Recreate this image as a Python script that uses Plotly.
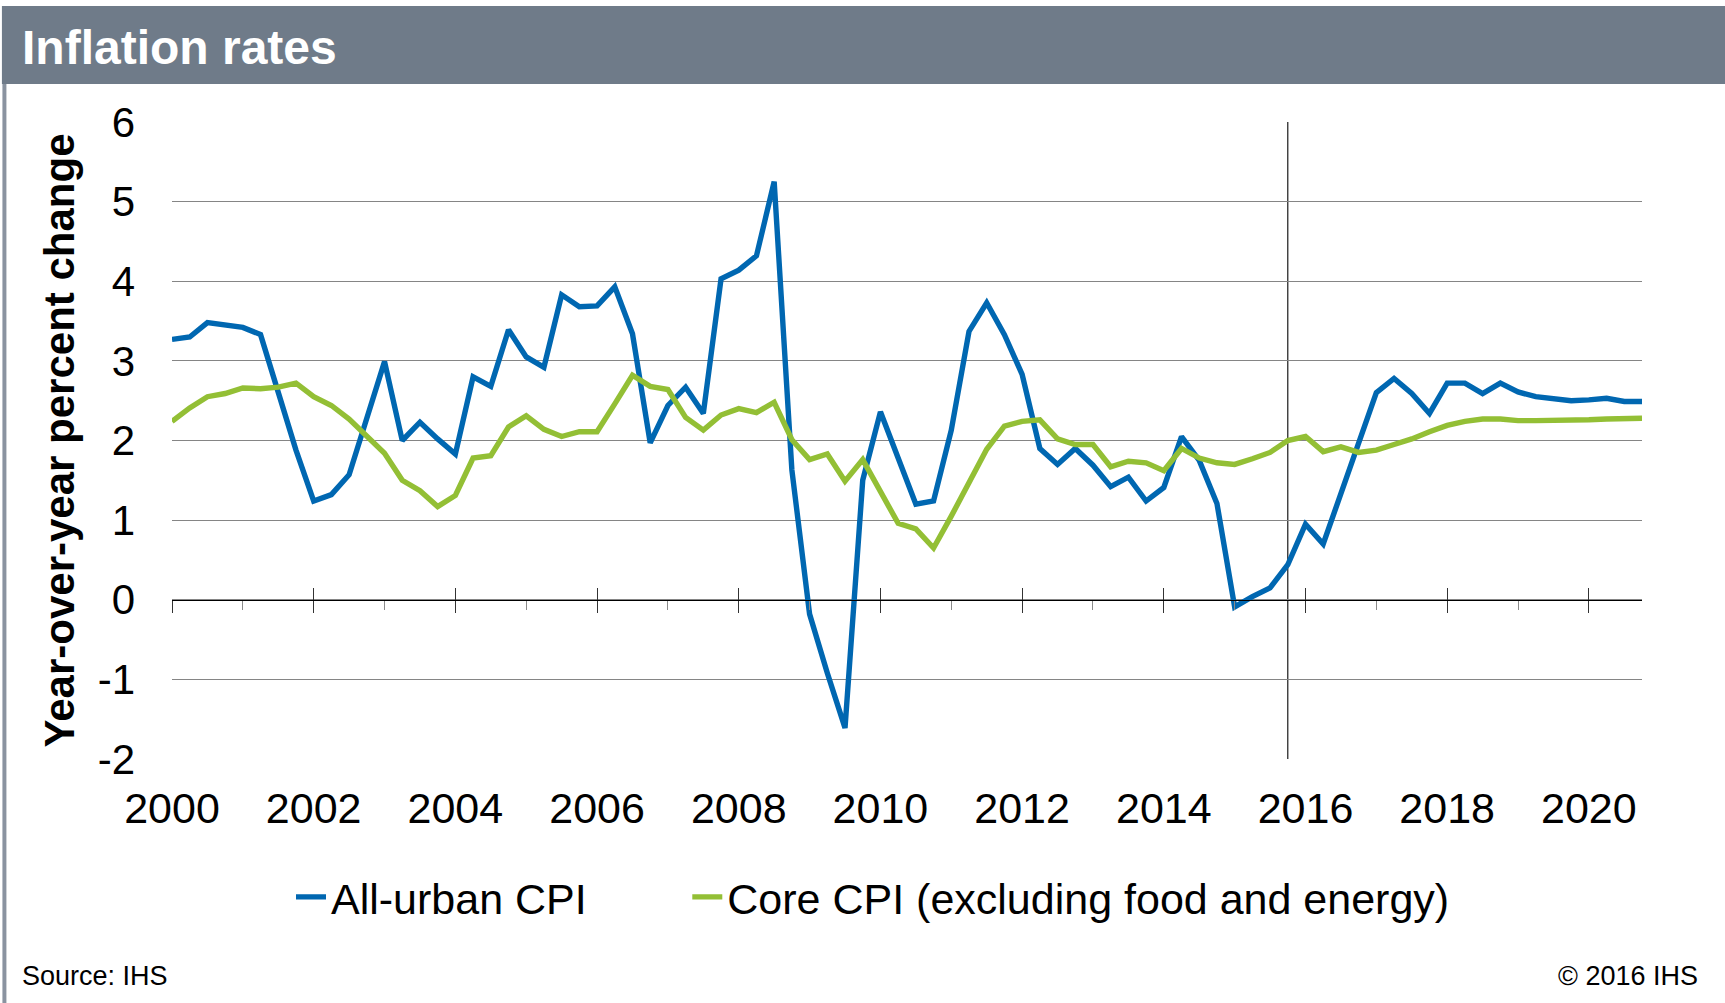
import plotly.graph_objects as go

# ---------------- data ----------------
quarters = [f"{y}Q{q}" for y in range(2000, 2021) for q in range(1, 5)]

all_urban_cpi = [
    3.27, 3.30, 3.48, 3.45, 3.42, 3.33, 2.61, 1.88,
    1.24, 1.32, 1.57, 2.27, 2.99, 2.00, 2.23, 2.02,
    1.83, 2.80, 2.68, 3.39, 3.05, 2.92, 3.83, 3.68,
    3.69, 3.93, 3.34, 1.97, 2.44, 2.67, 2.34, 4.03,
    4.14, 4.32, 5.25, 1.63, -0.18, -0.92, -1.61, 1.50,
    2.36, 1.78, 1.20, 1.24, 2.13, 3.37, 3.73, 3.33,
    2.83, 1.90, 1.70, 1.90, 1.69, 1.42, 1.54, 1.24,
    1.41, 2.05, 1.75, 1.21, -0.09, 0.04, 0.15, 0.44,
    0.95, 0.70, 1.33, 1.96, 2.60, 2.78, 2.59, 2.34,
    2.72, 2.72, 2.59, 2.72, 2.61, 2.55, 2.53, 2.50,
    2.51, 2.53, 2.49, 2.49,
]

core_cpi = [
    2.24, 2.41, 2.55, 2.59, 2.66, 2.65, 2.67, 2.72,
    2.55, 2.44, 2.27, 2.06, 1.84, 1.50, 1.37, 1.17,
    1.31, 1.78, 1.81, 2.17, 2.31, 2.14, 2.05, 2.11,
    2.11, 2.46, 2.82, 2.68, 2.64, 2.29, 2.13, 2.32,
    2.40, 2.35, 2.48, 2.01, 1.76, 1.83, 1.49, 1.76,
    1.36, 0.96, 0.89, 0.65, 1.05, 1.48, 1.89, 2.18,
    2.24, 2.26, 2.02, 1.95, 1.95, 1.67, 1.74, 1.72,
    1.62, 1.90, 1.78, 1.72, 1.70, 1.77, 1.85, 2.00,
    2.05, 1.86, 1.92, 1.85, 1.88, 1.95, 2.02, 2.11,
    2.19, 2.24, 2.27, 2.27, 2.25, 2.25, 2.25, 2.25,
    2.26, 2.27, 2.27, 2.28,
]

tick_years = list(range(2000, 2021, 2))
tick_labels = [str(y) for y in tick_years]
y_ticks = list(range(-2, 7))
forecast_start = "2015Q4"

series_names = ["All-urban CPI", "Core CPI (excluding food and energy)"]
series_colors = ["#0067B1", "#93BF35"]


# quarter label -> numeric position on a year axis
def qpos(label):
    return int(label[:4]) + (int(label[-1]) - 1) / 4.0


x_vals = [qpos(q) for q in quarters]

FONT = "Arial, 'Liberation Sans', sans-serif"
LEGEND_PAD = "\u00a0" * 8  # visual spacing between the two legend entries

fig = go.Figure()
for i, (name, vals, col) in enumerate(zip(series_names, [all_urban_cpi, core_cpi], series_colors)):
    fig.add_trace(go.Scatter(
        x=x_vals, y=vals, mode="lines",
        name=name + (LEGEND_PAD if i == 0 else ""),
        line=dict(color=col, width=5.4), hoverinfo="skip",
    ))

# empty helper traces so the zero-line axes (ticks crossing y=0) are drawn
for ax in ["x2", "x3"]:
    fig.add_trace(go.Scatter(x=[], y=[], xaxis=ax, yaxis="y",
                             showlegend=False, hoverinfo="skip"))

x_range = [x_vals[0], x_vals[-1]]

fig.update_layout(
    width=1725, height=1003,
    margin=dict(l=172, r=83, t=122, b=244),
    paper_bgcolor="white", plot_bgcolor="white",
    font=dict(family=FONT, color="black"),
    showlegend=True,
    legend=dict(
        orientation="h", x=(291 - 172) / 1470, xanchor="left",
        y=-0.2166, yanchor="middle",
        font=dict(size=43, family=FONT, color="black"),
        bgcolor="rgba(0,0,0,0)",
    ),
    xaxis=dict(
        range=x_range, tickmode="array", tickvals=tick_years, ticktext=tick_labels,
        showgrid=False, zeroline=False, showline=False, ticks="",
        tickfont=dict(size=43, family=FONT, color="black"),
        ticklabelstandoff=20,
    ),
    xaxis2=dict(
        range=x_range, overlaying="x", anchor="free", position=0.25,
        showline=True, linecolor="black", linewidth=1.2,
        tickmode="array", tickvals=tick_years, showticklabels=False,
        ticks="outside", ticklen=12, tickcolor="#333333", tickwidth=1.2,
        minor=dict(ticks="outside", dtick=1, tick0=2001, ticklen=9,
                   tickcolor="#8a8a8a", tickwidth=1.2, showgrid=False),
        showgrid=False, zeroline=False,
    ),
    xaxis3=dict(
        range=x_range, overlaying="x", anchor="free", position=0.25,
        showline=False, tickmode="array", tickvals=tick_years, showticklabels=False,
        ticks="inside", ticklen=12, tickcolor="#333333", tickwidth=1.2,
        showgrid=False, zeroline=False,
    ),
    yaxis=dict(
        range=[-2, 6], tickmode="array", tickvals=y_ticks,
        ticktext=[str(v) for v in y_ticks],
        showgrid=True, gridcolor="#858585", gridwidth=1.3,
        zeroline=False, showline=False, ticks="",
        tickfont=dict(size=42, family=FONT, color="black"),
        ticklabelstandoff=36,
        title=dict(text="<b>Year-over-year percent change</b>",
                   font=dict(size=42, family=FONT, color="black"), standoff=9),
    ),
)

# forecast divider
fig.add_shape(type="line", xref="x", yref="y",
              x0=qpos(forecast_start), x1=qpos(forecast_start), y0=-2, y1=6,
              line=dict(color="#1a1a1a", width=1.2), layer="below")

# header bar and frame
fig.add_shape(type="rect", xref="paper", yref="paper",
              x0=-0.1157, x1=1.06, y0=1.0597, y1=1.1821,
              fillcolor="#6F7B89", line=dict(width=0), layer="above")
fig.add_shape(type="line", xref="paper", yref="paper",
              x0=-0.1140, x1=-0.1140, y0=-0.40, y1=1.0597,
              line=dict(color="#8a93a0", width=4), layer="above")

fig.add_annotation(text="<b>Inflation rates</b>", xref="paper", yref="paper",
                   x=-0.1034, y=1.1175, xanchor="left", yanchor="middle",
                   showarrow=False, font=dict(size=48, family=FONT, color="white"))
fig.add_annotation(text="Source: IHS", xref="paper", yref="paper",
                   x=-0.1034, y=-0.3407, xanchor="left", yanchor="middle",
                   showarrow=False, font=dict(size=27, family=FONT, color="black"))
fig.add_annotation(text="© 2016 IHS", xref="paper", yref="paper",
                   x=1.0395, y=-0.3407, xanchor="right", yanchor="middle",
                   showarrow=False, font=dict(size=27, family=FONT, color="black"))

fig.write_html(
    "out.html",
    config={"displayModeBar": False},
    post_script="document.body.style.margin='0';document.body.style.overflow='hidden';",
)
